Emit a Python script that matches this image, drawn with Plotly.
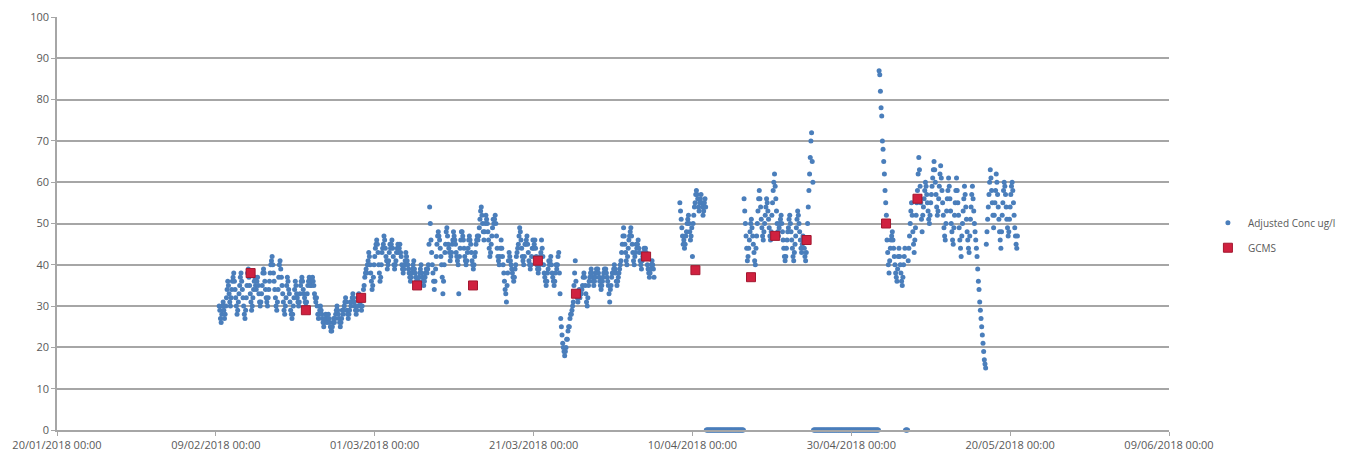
import pandas as pd
import plotly.graph_objects as go

# ---- data ----
first_day = "2018-02-09"
N = None
ZERO_DAY = [0, 0, 0, 0, 0, 0, 0, 0, 0, 0, 0, 0]
NO_DATA = [N, N, N, N, N, N, N, N, N, N, N, N]
# 2-hourly readings (00:00 ... 22:00), one row per day
adjusted_conc_by_day = [
    [N, N, N, N, N, 30, 29, 27, 26, 28, 30, 31],        # 09/02
    [29, 27, 28, 30, 32, 34, 36, 35, 33, 31, 30, 32],
    [34, 36, 37, 38, 36, 34, 32, 30, 28, 29, 31, 33],
    [35, 37, 38, 36, 34, 32, 30, 28, 27, 29, 32, 35],
    [38, 39, 37, 35, 33, 31, 29, 30, 32, 34, 36, 37],
    [35, 34, 36, 37, 35, 33, 31, 30, 31, 33, 35, 38],
    [39, 38, 36, 34, 32, 31, 30, 32, 34, 36, 38, 40],
    [41, 42, 40, 38, 36, 34, 32, 30, 29, 31, 34, 37],
    [40, 41, 39, 37, 35, 33, 31, 29, 28, 30, 32, 35],
    [37, 36, 34, 33, 31, 29, 28, 27, 28, 30, 32, 34],
    [36, 35, 33, 32, 31, 30, 31, 33, 35, 36, 37, 36],
    [34, 33, 32, 31, 30, 31, 33, 35, 36, 37, 36, 35],
    [35, 36, 37, 36, 35, 33, 32, 31, 32, 30, 28, 27],
    [28, 29, 30, 29, 28, 27, 26, 25, 26, 27, 28, 27],
    [26, 27, 28, 27, 26, 25, 24, 24, 25, 26, 27, 26],
    [27, 28, 29, 30, 29, 28, 27, 26, 25, 26, 27, 29],
    [28, 29, 30, 31, 32, 31, 29, 28, 27, 28, 29, 31],
    [30, 31, 32, 33, 32, 31, 30, 29, 28, 29, 30, 32],
    [33, 32, 31, 30, 29, 30, 32, 34, 35, 37, 38, 39],
    [38, 40, 41, 43, 42, 40, 38, 36, 34, 35, 37, 40],   # 28/02
    [42, 44, 45, 46, 45, 43, 40, 38, 36, 37, 40, 43],   # 01/03
    [44, 45, 47, 46, 44, 42, 41, 39, 40, 41, 43, 45],
    [44, 45, 46, 44, 42, 40, 39, 40, 41, 43, 44, 45],
    [43, 44, 45, 43, 42, 40, 39, 38, 39, 40, 41, 43],
    [42, 41, 40, 39, 38, 37, 36, 37, 38, 39, 40, 41],
    [39, 38, 37, 36, 35, 35, 36, 37, 38, 39, 40, 38],
    [37, 36, 35, 36, 37, 38, 39, 38, 39, 40, 45, 54],
    [50, 46, 43, 40, 38, 36, 34, 36, 39, 42, 45, 47],
    [48, 47, 46, 44, 42, 40, 37, 33, 36, 40, 43, 45],
    [48, 49, 47, 45, 44, 43, 41, 42, 43, 45, 46, 48],
    [47, 46, 45, 43, 42, 41, 40, 33, 42, 44, 46, 48],
    [48, 47, 46, 44, 42, 41, 40, 41, 43, 44, 46, 47],
    [46, 45, 43, 41, 40, 39, 40, 42, 43, 45, 46, 47],
    [46, 47, 49, 51, 53, 54, 52, 50, 48, 46, 48, 50],
    [52, 51, 50, 48, 46, 44, 42, 43, 45, 47, 49, 51],
    [50, 51, 52, 50, 47, 44, 42, 41, 40, 42, 44, 46],
    [44, 42, 40, 38, 36, 34, 33, 31, 35, 38, 41, 43],
    [42, 41, 40, 39, 38, 37, 36, 37, 39, 40, 42, 43],
    [44, 45, 47, 49, 48, 46, 44, 42, 41, 40, 42, 45],
    [45, 46, 47, 45, 43, 41, 40, 39, 40, 42, 44, 46],
    [44, 45, 46, 44, 42, 40, 39, 38, 39, 40, 42, 43],   # 21/03
    [46, 44, 42, 40, 38, 37, 36, 35, 36, 38, 39, 41],
    [40, 41, 42, 40, 38, 37, 36, 35, 36, 38, 40, 39],
    [40, 42, 43, 38, 33, 27, 25, 23, 21, 20, 19, 18],
    [19, 20, 22, 22, 24, 25, 25, 27, 28, 28, 29, 30],
    [31, 35, 38, 41, 36, 33, 32, 31, 33, 34, 32, 33],
    [33, 34, 35, 37, 38, 37, 35, 33, 31, 30, 32, 35],
    [36, 37, 38, 39, 38, 37, 36, 35, 36, 37, 38, 39],
    [38, 39, 38, 37, 36, 35, 34, 35, 36, 37, 38, 39],
    [38, 39, 38, 37, 36, 35, 33, 31, 34, 35, 37, 38],
    [38, 39, 40, 39, 38, 36, 35, 36, 37, 38, 39, 40],   # 31/03
    [41, 43, 45, 47, 49, 47, 45, 43, 41, 40, 42, 44],
    [46, 47, 48, 49, 47, 45, 43, 41, 40, 42, 43, 45],
    [44, 45, 46, 44, 43, 41, 40, 39, 41, 42, 43, 44],
    [43, 44, 43, 42, 40, 39, 38, 37, 38, 39, 40, 41],
    [40, 39, 37, N, N, N, N, N, N, N, N, N],
    NO_DATA,
    NO_DATA,
    [N, N, N, N, N, 55, 53, 51, 49, 47, 45, 46],
    [44, 45, 47, 48, 50, 51, 52, 50, 48, 46, 47, 49],
    [42, 50, 52, 54, 55, 57, 58, 57, 56, 54, 53, 55],   # 10/04
    [56, 57, 55, 54, 52, 53, 55, 56, 54, 0, 0, 0],
    ZERO_DAY,
    ZERO_DAY,
    ZERO_DAY,
    ZERO_DAY,
    [0, 0, 0, 0, 0, 0, 56, 53, 50, 47, 44, 41],
    [42, 44, 46, 48, 50, 51, 49, 47, 45, 43, 41, 40],
    [44, 47, 50, 53, 56, 58, 56, 54, 51, 49, 47, 46],
    [48, 50, 52, 54, 56, 55, 53, 51, 49, 47, 46, 48],
    [52, 55, 58, 60, 62, 59, 56, 53, 50, 48, 47, 49],   # 20/04
    [50, 51, 52, 50, 48, 46, 44, 42, 41, 42, 44, 46],
    [48, 49, 51, 52, 50, 48, 46, 44, 42, 41, 43, 45],
    [47, 49, 51, 53, 52, 50, 48, 46, 44, 43, 45, 47],
    [46, 44, 42, 41, 43, 46, 50, 54, 58, 62, 66, 70],
    [72, 65, 60, 0, 0, 0, 0, 0, 0, 0, 0, 0],
    ZERO_DAY,
    ZERO_DAY,
    ZERO_DAY,
    ZERO_DAY,
    ZERO_DAY,                                           # 30/04
    ZERO_DAY,
    ZERO_DAY,
    [0, 0, 0, 0, 0, 0, 87, 86, 82, 78, 76, 70],
    [68, 65, 62, 58, 55, 52, 46, 43, 40, 38, 41, 44],
    [46, 47, 48, 46, 44, 42, 40, 38, 37, 36, 39, 42],
    [44, 42, 40, 38, 36, 35, 37, 40, 42, 44, 0, 0],
    [0, 0, 41, 44, 47, 50, 53, 55, 52, 48, 45, 43],
    [46, 49, 52, 55, 58, 62, 66, 63, 59, 55, 51, 48],
    [52, 54, 56, 58, 60, 59, 57, 55, 53, 51, 50, 52],
    [55, 57, 59, 61, 63, 65, 63, 60, 57, 54, 52, 53],   # 10/05
    [56, 59, 62, 64, 61, 58, 55, 52, 49, 47, 46, 50],
    [53, 56, 58, 61, 59, 56, 53, 50, 48, 46, 45, 49],
    [52, 55, 58, 61, 58, 55, 52, 49, 46, 44, 42, 47],
    [50, 53, 56, 59, 57, 54, 51, 48, 46, 44, 43, 47],
    [51, 54, 57, 59, 56, 53, 50, 48, 46, 44, 42, 39],
    [36, 34, 31, 29, 27, 25, 23, 21, 19, 17, 16, 15],
    [45, 48, 51, 54, 57, 60, 63, 61, 58, 55, 52, 49],
    [52, 55, 58, 62, 60, 57, 54, 51, 48, 46, 44, 48],
    [52, 55, 58, 60, 59, 57, 54, 51, 49, 47, 48, 51],
    [54, 57, 59, 60, 58, 55, 52, 49, 47, 45, 44, 47],   # 20/05
]

gcms_dates = [
    "2018-02-13 09:00", "2018-02-20 08:00", "2018-02-27 07:00", "2018-03-06 08:00",
    "2018-03-13 09:00", "2018-03-21 13:00", "2018-03-26 08:00", "2018-04-04 04:00",
    "2018-04-10 09:00", "2018-04-17 09:00", "2018-04-20 10:00", "2018-04-24 09:00",
    "2018-05-04 09:00", "2018-05-08 08:00",
]
gcms_values = [38, 29, 32, 35, 35, 41, 33, 42, 38.7, 37, 47, 46, 50, 56]

x_range = ["2018-01-20", "2018-06-09"]
y_range = [0, 100]

# ---- build ----
adj_values = [v for day in adjusted_conc_by_day for v in day]
adj_times = pd.date_range(first_day, periods=len(adj_values), freq="2h")

FONT = "Open Sans"
GREY_TXT = "#595959"
GRID = "#a6a6a6"

fig = go.Figure()
fig.add_trace(go.Scatter(
    x=adj_times, y=adj_values, mode="markers", name="Adjusted Conc ug/l",
    marker=dict(color="#4a7ebb", size=5, symbol="circle", line=dict(width=0)),
    legendgroup="a", cliponaxis=False,
))
fig.add_trace(go.Scatter(
    x=pd.to_datetime(gcms_dates), y=gcms_values, mode="markers", name="GCMS",
    marker=dict(color="#d0213f", size=9, symbol="square", line=dict(color="#a3172f", width=1)),
    legendgroup="b",
))

fig.update_layout(
    width=1352, height=447,
    margin=dict(l=49, r=191, t=9, b=25, autoexpand=False),
    paper_bgcolor="white", plot_bgcolor="white",
    font=dict(family=FONT, size=11, color=GREY_TXT),
    showlegend=True,
    legend=dict(x=1.035, y=0.537, xanchor="left", yanchor="top",
                font=dict(family=FONT, size=10, color=GREY_TXT),
                itemwidth=30, tracegroupgap=6, traceorder="grouped",
                bgcolor="rgba(0,0,0,0)"),
)
fig.update_xaxes(
    type="date", range=x_range, tick0="2018-01-20", dtick=20 * 86400000,
    tickformat="%d/%m/%Y %H:%M", showgrid=False, showline=True, automargin=False,
    linecolor=GRID, linewidth=1.5, ticks="outside", ticklen=4, tickcolor=GRID,
    tickfont=dict(family=FONT, size=11, color=GREY_TXT), zeroline=False,
)
fig.update_yaxes(
    range=y_range, dtick=10, showgrid=True, gridcolor=GRID, gridwidth=1.5,
    showline=True, linecolor=GRID, linewidth=1.5, ticks="outside", ticklen=4,
    tickcolor=GRID, zeroline=False, automargin=False,
    tickfont=dict(family=FONT, size=11, color=GREY_TXT),
)

fig.write_html("out.html")
